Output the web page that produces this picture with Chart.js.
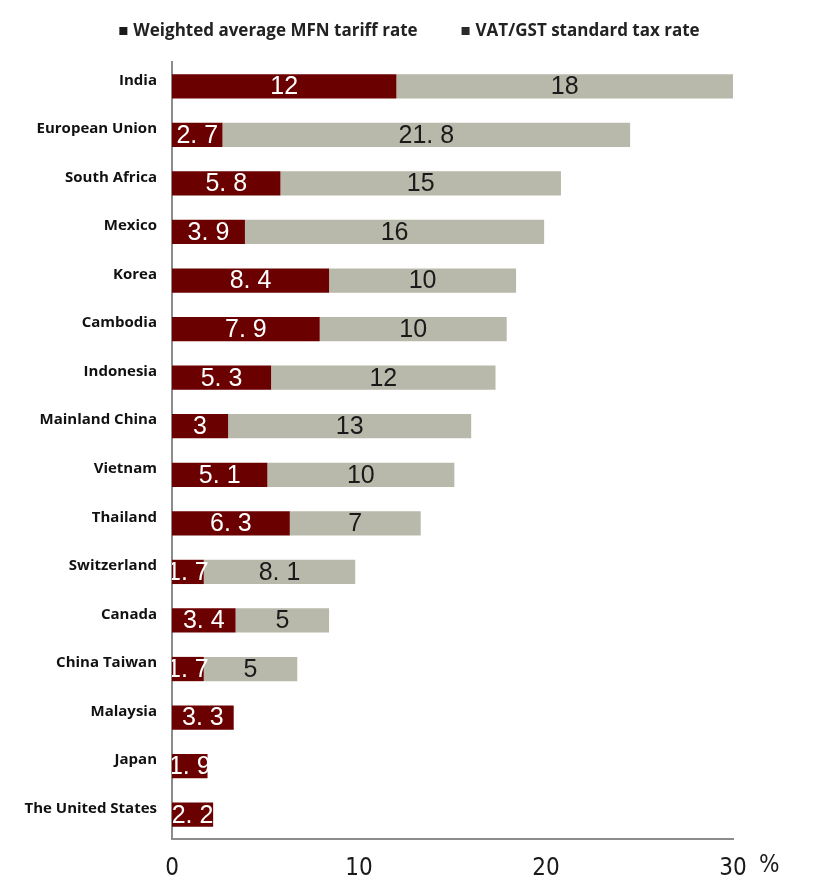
<!DOCTYPE html>
<html>
<head>
<meta charset="utf-8">
<script src="https://cdn.jsdelivr.net/npm/chart.js@4/dist/chart.umd.min.js"></script>
<style>
html,body{margin:0;padding:0;background:#fff;}
#wrap{width:813px;height:892px;position:relative;}
</style>
</head>
<body>
<div id="wrap"><canvas id="c"></canvas></div>
<script>
const categories = ["India","European Union","South Africa","Mexico","Korea","Cambodia","Indonesia","Mainland China","Vietnam","Thailand","Switzerland","Canada","China Taiwan","Malaysia","Japan","The United States"];
const tariffRate = [12,2.7,5.8,3.9,8.4,7.9,5.3,3,5.1,6.3,1.7,3.4,1.7,3.3,1.9,2.2];
const vatRate = [18,21.8,15,16,10,10,12,13,10,7,8.1,5,5,null,null,null];
const xTicks = [0,10,20,30];
const seriesNames = ["Weighted average MFN tariff rate","VAT/GST standard tax rate"];

const fmt = v => String(v).replace('.', '. ');

const barLabels = {
  id:'barLabels',
  afterDatasetsDraw(chart){
    const ctx = chart.ctx, a = chart.chartArea;
    ctx.save();
    ctx.beginPath(); ctx.rect(a.left, a.top, a.right-a.left, a.bottom-a.top); ctx.clip();
    ctx.font = '25px "Liberation Sans", Arial, sans-serif';
    ctx.textAlign = 'center'; ctx.textBaseline = 'middle';
    chart.data.datasets.forEach((ds, di) => {
      const meta = chart.getDatasetMeta(di);
      meta.data.forEach((el, i) => {
        const v = ds.data[i];
        if (v == null) return;
        const cx = (el.x + el.base) / 2;
        ctx.fillStyle = di === 0 ? '#ffffff' : '#1a1a1a';
        ctx.fillText(fmt(v), cx, el.y + 1);
      });
    });
    ctx.restore();
  }
};

const topLegend = {
  id:'topLegend',
  afterDraw(chart){
    const ctx = chart.ctx;
    ctx.save();
    ctx.font = 'bold 17px "Open Sans", sans-serif';
    ctx.textBaseline = 'middle'; ctx.textAlign = 'left';
    const names = chart.data.datasets.map(d => d.label);
    const widths = names.map(n => ctx.measureText(n).width);
    const off = 14, gap = 44;
    const total = off + widths[0] + gap + off + widths[1];
    let x = 409.5 - total / 2;
    const cy = 31;
    const markColors = ['#1a1a1a', '#2a2a2a'];
    names.forEach((n, i) => {
      ctx.fillStyle = markColors[i];
      ctx.fillRect(x, cy - 4, 8, 8);
      ctx.fillStyle = '#222';
      ctx.fillText(n, x + off, cy);
      x += off + widths[i] + gap;
    });
    ctx.restore();
  }
};

const percentSign = {
  id:'percentSign',
  afterDraw(chart){
    const x = chart.scales.x, ctx = chart.ctx;
    ctx.save();
    ctx.font = '24px "Liberation Sans Narrow", "DejaVu Sans Condensed", sans-serif';
    ctx.fillStyle = '#1a1a1a';
    ctx.textAlign = 'left'; ctx.textBaseline = 'middle';
    ctx.fillText('%', x.getPixelForValue(30) + 26, 866);
    ctx.restore();
  }
};

new Chart(document.getElementById('c'), {
  type:'bar',
  data:{
    labels: categories,
    datasets:[
      {label: seriesNames[0], data: tariffRate, backgroundColor:'#6b0000', barPercentage:0.5, categoryPercentage:1.0},
      {label: seriesNames[1], data: vatRate, backgroundColor:'#b9b9ab', barPercentage:0.5, categoryPercentage:1.0}
    ]
  },
  options:{
    indexAxis:'y',
    responsive:true,
    maintainAspectRatio:false,
    animation:false,
    layout:{padding:{left:0, right:80, top:62, bottom:0}},
    plugins:{
      tooltip:{enabled:false},
      legend:{display:false}
    },
    scales:{
      x:{
        stacked:true, min:0, max:30,
        afterBuildTicks(s){ s.ticks = xTicks.map(v=>({value:v})); },
        grid:{display:false, drawTicks:false},
        border:{display:true, color:'#8c8c8c', width:2},
        ticks:{padding:15, color:'#1a1a1a', font:{family:'"Liberation Sans Narrow", "DejaVu Sans Condensed", sans-serif', size:24}},
        afterFit(s){ s.height = 53; }
      },
      y:{
        stacked:true,
        grid:{display:false, drawTicks:false},
        border:{display:true, color:'#8c8c8c', width:2},
        ticks:{padding:15, labelOffset:-6, color:'#111', font:{family:'"Open Sans", sans-serif', size:15, weight:'bold'}},
        afterFit(s){ s.width = 172; }
      }
    }
  },
  plugins:[barLabels, topLegend, percentSign]
});
</script>
</body>
</html>
